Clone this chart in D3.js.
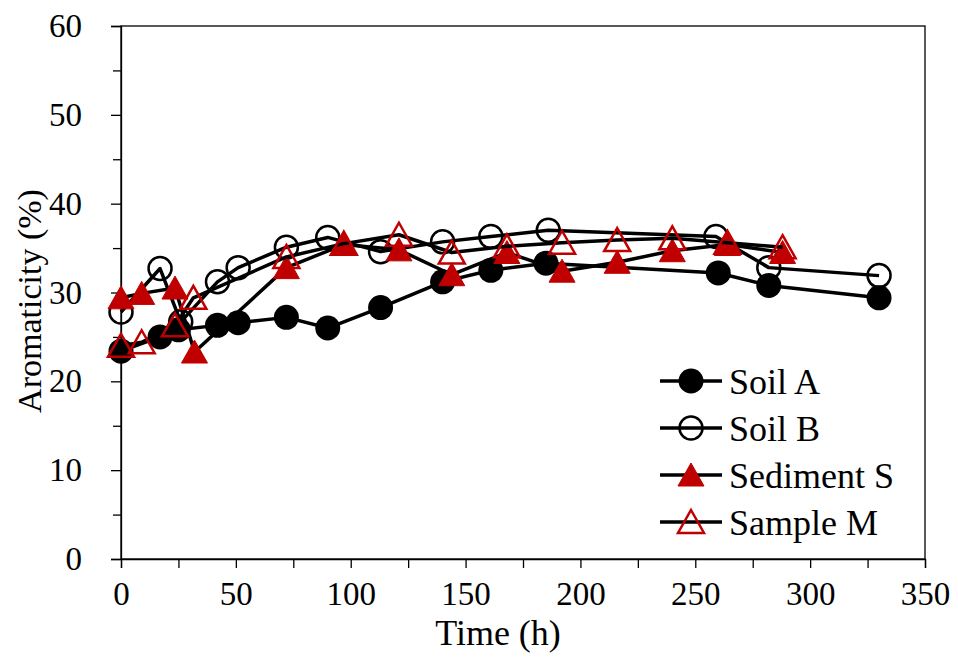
<!DOCTYPE html>
<html><head><meta charset="utf-8">
<script src="https://cdn.jsdelivr.net/npm/d3@7"></script>
<style>body{margin:0;background:#fff}svg{display:block}</style>
</head><body><svg id="c" width="958" height="659"></svg>
<script>
const seriesNames = ["Soil A", "Soil B", "Sediment S", "Sample M"];
const soilA_t = [0, 17, 25, 42, 51, 72, 90, 113, 140, 161, 185, 260, 282, 330];
const soilA_v = [23.4, 25.0, 25.8, 26.3, 26.6, 27.2, 26.0, 28.3, 31.2, 32.5, 33.3, 32.2, 30.8, 29.4];
const soilB_t = [0, 17, 26, 42, 51, 72, 90, 113, 140, 161, 186, 259, 282, 330];
const soilB_v = [27.8, 32.7, 26.7, 31.2, 32.8, 35.1, 36.2, 34.6, 35.7, 36.3, 37.0, 36.3, 32.8, 31.9];
const sedS_t = [0, 9, 23.5, 32, 72, 97, 121, 144, 168, 192, 216, 240, 264, 288];
const sedS_v = [29.4, 29.9, 30.5, 23.3, 32.8, 35.4, 34.8, 32.0, 34.5, 32.4, 33.4, 34.7, 35.4, 34.5];
const samM_t = [0, 9, 23.5, 31.5, 72, 97, 121, 144, 168, 192, 216, 240, 264, 288];
const samM_v = [24.0, 24.4, 26.3, 29.4, 34.0, 35.5, 36.5, 34.5, 35.2, 35.6, 35.9, 36.1, 35.6, 35.1];
const xTicks = [0, 50, 100, 150, 200, 250, 300, 350];
const yTicks = [0, 10, 20, 30, 40, 50, 60];

const FONT = "'Liberation Serif', 'Times New Roman', 'DejaVu Serif', serif";
const svg = d3.select("#c").attr("font-family", FONT);
const L = 121, R = 925, T = 26, B = 559;
const x = d3.scaleLinear().domain([0, 350]).range([L, R]);
const y = d3.scaleLinear().domain([0, 60]).range([B, T]);
const red = "#C00000";

svg.append("rect").attr("x", L).attr("y", T).attr("width", R - L).attr("height", B - T)
  .attr("fill", "none").attr("stroke", "#000").attr("stroke-width", 1.3);

const yMinor = d3.range(5, 60, 10);
svg.append("g").attr("transform", `translate(${L},0)`)
  .call(d3.axisLeft(y).tickValues(yMinor).tickSize(8).tickFormat(""))
  .call(g => g.select(".domain").remove())
  .call(g => g.selectAll("line").attr("stroke-width", 1.3));
const ya = svg.append("g").attr("transform", `translate(${L},0)`)
  .call(d3.axisLeft(y).tickValues(yTicks).tickSize(10).tickPadding(29))
  .call(g => g.select(".domain").attr("stroke-width", 1.3))
  .call(g => g.selectAll("line").attr("stroke-width", 1.3));
ya.attr("font-family", FONT);
ya.selectAll("text").attr("font-size", 33).attr("fill", "#000");

const xMinor = d3.range(25, 350, 50);
svg.append("g").attr("transform", `translate(0,${B})`)
  .call(d3.axisBottom(x).tickValues(xMinor).tickSize(9).tickFormat(""))
  .call(g => g.select(".domain").remove())
  .call(g => g.selectAll("line").attr("stroke-width", 1.3));
const xa = svg.append("g").attr("transform", `translate(0,${B})`)
  .call(d3.axisBottom(x).tickValues(xTicks).tickSize(9).tickPadding(14))
  .call(g => g.select(".domain").attr("stroke-width", 1.3))
  .call(g => g.selectAll("line").attr("stroke-width", 1.3));
xa.attr("font-family", FONT);
xa.selectAll("text").attr("font-size", 33).attr("fill", "#000");

svg.append("text").attr("x", 498).attr("y", 645).attr("text-anchor", "middle")
  .attr("font-size", 36).text("Time (h)");
svg.append("text").attr("transform", `translate(41,301) rotate(-90)`)
  .attr("text-anchor", "middle").attr("font-size", 34).text("Aromaticity (%)");

const triPath = "M0,-12 L13,11 L-13,11 Z";
const styles = [
  {t: soilA_t, v: soilA_v, shape: "circle", fill: "#000", stroke: "#000", sw: 0},
  {t: soilB_t, v: soilB_v, shape: "circle", fill: "none", stroke: "#000", sw: 2.5},
  {t: sedS_t, v: sedS_v, shape: "tri", fill: red, stroke: red, sw: 1},
  {t: samM_t, v: samM_v, shape: "tri", fill: "none", stroke: red, sw: 2.5}
];
const line = d3.line().x(d => x(d[0])).y(d => y(d[1]));

function marker(g, s) {
  if (s.shape === "circle") {
    g.append("circle").attr("r", s.fill === "none" ? 11.5 : 12.5)
      .attr("fill", s.fill).attr("stroke", s.stroke).attr("stroke-width", s.sw);
  } else {
    g.append("path").attr("d", triPath).attr("fill", s.fill).attr("stroke", s.stroke)
      .attr("stroke-width", s.sw).attr("stroke-linejoin", "miter");
  }
}

styles.forEach(s => {
  const pts = s.t.map((t, i) => [t, s.v[i]]);
  svg.append("path").datum(pts).attr("d", line).attr("fill", "none")
    .attr("stroke", "#000").attr("stroke-width", 3.5).attr("stroke-linejoin", "round");
  pts.forEach(p => {
    const g = svg.append("g").attr("transform", `translate(${x(p[0])},${y(p[1])})`);
    marker(g, s);
  });
});

const legY = [381, 428, 475, 522];
seriesNames.forEach((n, i) => {
  const s = styles[i];
  svg.append("line").attr("x1", 660).attr("x2", 722).attr("y1", legY[i]).attr("y2", legY[i])
    .attr("stroke", "#000").attr("stroke-width", 3.5);
  const g = svg.append("g").attr("transform", `translate(691,${legY[i]})`);
  marker(g, s);
  svg.append("text").attr("x", 729).attr("y", legY[i]).attr("dy", "0.35em")
    .attr("font-size", 36).attr("fill", "#000").text(n);
});
</script></body></html>
